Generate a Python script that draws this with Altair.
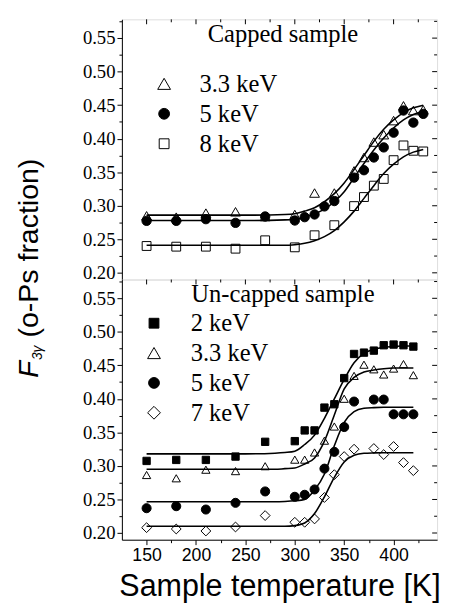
import altair as alt
import pandas as pd

# ---------------- data ----------------
# Capped sample
cap_33_T = [150, 180, 210, 240, 270, 300, 320, 340, 360, 370, 380, 390, 400, 410, 420, 430]
cap_33_F = [0.285, 0.283, 0.289, 0.291, 0.284, 0.287, 0.319, 0.319, 0.352, 0.372, 0.395, 0.406, 0.427, 0.449, 0.442, 0.443]
cap_5_T = [150, 180, 210, 240, 270, 300, 310, 320, 330, 340, 360, 370, 380, 390, 400, 410, 420, 430]
cap_5_F = [0.2775, 0.2775, 0.280, 0.2745, 0.284, 0.278, 0.283, 0.287, 0.299, 0.307, 0.342, 0.353, 0.372, 0.387, 0.409, 0.442, 0.424, 0.437]
cap_8_T = [150, 180, 210, 240, 270, 300, 320, 340, 360, 370, 380, 390, 400, 410, 420, 430]
cap_8_F = [0.240, 0.239, 0.239, 0.236, 0.2485, 0.238, 0.256, 0.271, 0.2995, 0.313, 0.330, 0.340, 0.368, 0.390, 0.382, 0.381]

cap_fit_T = [150, 200, 250, 290, 300, 310, 320, 330, 340, 350, 360, 370, 380, 390, 400, 410, 420, 430]
cap_fit_33 = [0.286, 0.286, 0.286, 0.287, 0.288, 0.292, 0.297, 0.306, 0.318, 0.334, 0.354, 0.375, 0.396, 0.414, 0.428, 0.439, 0.446, 0.450]
cap_fit_5 = [0.278, 0.278, 0.278, 0.279, 0.280, 0.283, 0.288, 0.295, 0.306, 0.321, 0.342, 0.363, 0.383, 0.401, 0.416, 0.428, 0.436, 0.441]
cap_fit_8 = [0.241, 0.241, 0.241, 0.241, 0.242, 0.244, 0.248, 0.254, 0.263, 0.276, 0.292, 0.311, 0.330, 0.348, 0.362, 0.373, 0.380, 0.384]

# Un-capped sample
unc_T = [150, 180, 210, 240, 270, 300, 310, 320, 330, 340, 350, 360, 370, 380, 390, 400, 410, 420]
unc_2_F = [0.3075, 0.309, 0.309, 0.314, 0.336, 0.337, 0.353, 0.353, 0.387, 0.392, 0.431, 0.467, 0.469, 0.472, 0.480, 0.481, 0.480, 0.478]
unc_33_F = [0.2865, 0.2816, 0.2944, 0.2923, 0.2996, 0.3094, 0.3094, 0.3201, 0.3377, 0.3588, 0.4002, 0.4343, 0.451, 0.4441, 0.4364, 0.4452, 0.4519, 0.4354]
unc_57_T = [150, 180, 210, 240, 270, 300, 310, 320, 330, 340, 350, 360, 380, 390, 400, 410, 420]
unc_5_F = [0.237, 0.240, 0.235, 0.245, 0.262, 0.254, 0.257, 0.265, 0.296, 0.321, 0.358, 0.396, 0.399, 0.399, 0.377, 0.377, 0.377]
unc_7_F = [0.208, 0.206, 0.203, 0.209, 0.226, 0.216, 0.216, 0.221, 0.253, 0.287, 0.314, 0.325, 0.326, 0.317, 0.329, 0.305, 0.293]

unc_fit_T = [150, 200, 250, 280, 290, 300, 310, 320, 330, 340, 350, 360, 370, 380, 390, 400, 410, 420]
unc_fit_2 = [0.318, 0.318, 0.318, 0.319, 0.320, 0.322, 0.332, 0.346, 0.371, 0.400, 0.429, 0.454, 0.468, 0.474, 0.477, 0.478, 0.479, 0.479]
unc_fit_33 = [0.295, 0.295, 0.295, 0.295, 0.296, 0.297, 0.303, 0.312, 0.337, 0.376, 0.415, 0.432, 0.440, 0.443, 0.445, 0.446, 0.446, 0.446]
unc_fit_5 = [0.2465, 0.2465, 0.2465, 0.2465, 0.247, 0.248, 0.250, 0.264, 0.288, 0.330, 0.365, 0.381, 0.386, 0.387, 0.3875, 0.3875, 0.3875, 0.3875]
unc_fit_7 = [0.210, 0.210, 0.210, 0.210, 0.210, 0.211, 0.215, 0.229, 0.254, 0.283, 0.306, 0.316, 0.319, 0.3195, 0.3197, 0.3197, 0.3197, 0.3197]

cap_series = ["3.3 keV", "5 keV", "8 keV"]
unc_series = ["2 keV", "3.3 keV", "5 keV", "7 keV"]

X_MAJOR = [150, 200, 250, 300, 350, 400]
X_MINOR = [175, 225, 275, 325, 375, 425]
Y_MAJOR = [0.20, 0.25, 0.30, 0.35, 0.40, 0.45, 0.50, 0.55]
Y_MINOR = [0.225, 0.275, 0.325, 0.375, 0.425, 0.475, 0.525, 0.575]

X_DOMAIN = [125, 444]
Y_DOMAIN = [0.19, 0.578]
W, H = 321, 265


def frame(name, xs, ys):
    return pd.DataFrame({"T": xs, "F": ys, "s": name})


MAJOR_Y = "abs(datum.value*20 - round(datum.value*20)) < 0.001"
MAJOR_X = "datum.value % 50 == 0"
y_axis = alt.Axis(
    values=sorted(Y_MAJOR + Y_MINOR),
    labelExpr=MAJOR_Y + " ? format(datum.value, '.2f') : ''",
    tickSize={"condition": {"test": MAJOR_Y, "value": 5}, "value": 3},
    labelFontSize={"condition": {"test": MAJOR_Y, "value": 19}, "value": 0},
    labelFont="Liberation Serif", labelPadding=2, labelOverlap=False,
    labelColor="black", tickColor="black", domainColor="black", grid=False, title=None,
)

x_axis = alt.Axis(
    values=sorted(X_MAJOR + X_MINOR),
    labelExpr=MAJOR_X + " ? format(datum.value, 'd') : ''",
    tickSize={"condition": {"test": MAJOR_X, "value": 5}, "value": 3},
    labelFontSize={"condition": {"test": MAJOR_X, "value": 18}, "value": 0},
    labelFont="Liberation Sans", labelPadding=2, labelOverlap=False,
    labelColor="black", tickColor="black", domainColor="black", grid=False,
    title="Sample temperature [K]", titleFont="Liberation Sans", titleFontSize=31,
    titleFontWeight="normal", titleColor="black", titlePadding=8,
)


def one(t):
    return alt.Chart(pd.DataFrame({"t": [t]}))


def legend_layers(order, shapes, fills, lsizes, sym_x, lab_x, y0, dy):
    layers = []
    for i, name in enumerate(order):
        yy = y0 + i * dy
        layers.append(one(name).mark_point(filled=True, stroke="black", strokeWidth=1, opacity=1).encode(
            x=alt.value(sym_x), y=alt.value(yy), shape=alt.value(shapes[i]),
            fill=alt.value(fills[i]), size=alt.value(lsizes[i])))
        layers.append(one(name).mark_text(
            font="Liberation Serif", fontSize=25, align="left", baseline="middle", color="black"
        ).encode(text="t:N", x=alt.value(lab_x), y=alt.value(yy)))
    return layers


def panel(points, curves, order, shapes, fills, sizes, lsizes, title_text,
          sym_x, lab_x, y0, dy, show_x, extra=()):
    pdf = pd.concat(points, ignore_index=True)
    cdf = pd.concat(curves, ignore_index=True)
    xs = alt.Scale(domain=X_DOMAIN, nice=False, zero=False)
    ys = alt.Scale(domain=Y_DOMAIN, nice=False, zero=False)
    xa = x_axis if show_x else None
    x = alt.X("T:Q", scale=xs, axis=xa)
    y = alt.Y("F:Q", scale=ys, axis=y_axis)
    lines = alt.Chart(cdf).mark_line(color="black", strokeWidth=1.6, interpolate="monotone").encode(
        x=x, y=y, detail="s:N")
    pts = alt.Chart(pdf).mark_point(filled=True, stroke="black", strokeWidth=1, opacity=1).encode(
        x=x, y=y,
        shape=alt.Shape("s:N", scale=alt.Scale(domain=order, range=shapes), legend=None),
        fill=alt.Fill("s:N", scale=alt.Scale(domain=order, range=fills), legend=None),
        size=alt.Size("s:N", scale=alt.Scale(domain=order, range=sizes), legend=None),
    )
    # inward ticks on the top and right borders
    ticks = []
    for vals, ln in ((X_MAJOR, 5), (X_MINOR, 3)):
        ticks.append(alt.Chart(pd.DataFrame({"T": vals})).mark_rule(color="black", strokeWidth=1).encode(
            x=alt.X("T:Q", scale=xs, axis=xa), y=alt.value(0), y2=alt.value(ln)))
    for vals, ln in ((Y_MAJOR, 5), (Y_MINOR, 3)):
        ticks.append(alt.Chart(pd.DataFrame({"F": vals})).mark_rule(color="black", strokeWidth=1).encode(
            y=alt.Y("F:Q", scale=ys, axis=y_axis), x=alt.value(W - ln), x2=alt.value(W)))
    ttl = one(title_text).mark_text(
        font="Liberation Serif", fontSize=25, align="center", baseline="alphabetic", color="black"
    ).encode(text="t:N", x=alt.value(164), y=alt.value(23))
    leg = legend_layers(order, shapes, fills, lsizes, sym_x, lab_x, y0, dy)
    return alt.layer(lines, pts, *ticks, ttl, *leg, *extra).properties(width=W, height=H)


# y title pieces, drawn beside the top panel
def ytext(t, size, style, xv, yv):
    return one(t).mark_text(
        font="Liberation Sans", fontSize=size, fontStyle=style, angle=270,
        align="left", baseline="alphabetic", color="black"
    ).encode(text="t:N", x=alt.value(xv), y=alt.value(yv))


ytitle = [
    ytext("F", 28, "italic", -85.5, 365),
    ytext("3γ", 14, "italic", -81, 347),
    ytext("(o-Ps fraction)", 29, "normal", -85.5, 324),
]

top = panel(
    [frame("3.3 keV", cap_33_T, cap_33_F), frame("5 keV", cap_5_T, cap_5_F), frame("8 keV", cap_8_T, cap_8_F)],
    [frame("3.3 keV", cap_fit_T, cap_fit_33), frame("5 keV", cap_fit_T, cap_fit_5), frame("8 keV", cap_fit_T, cap_fit_8)],
    cap_series, ["triangle-up", "circle", "square"], ["transparent", "black", "transparent"],
    [100, 81, 56], [170, 121, 100],
    "Capped sample", 43, 79, 65.7, 30.5, False, ytitle,
)

bottom = panel(
    [frame("2 keV", unc_T, unc_2_F), frame("3.3 keV", unc_T, unc_33_F),
     frame("5 keV", unc_57_T, unc_5_F), frame("7 keV", unc_57_T, unc_7_F)],
    [frame("2 keV", unc_fit_T, unc_fit_2), frame("3.3 keV", unc_fit_T, unc_fit_33),
     frame("5 keV", unc_fit_T, unc_fit_5), frame("7 keV", unc_fit_T, unc_fit_7)],
    unc_series, ["square", "triangle-up", "circle", "diamond"], ["black", "transparent", "black", "transparent"],
    [56, 100, 81, 100], [100, 170, 121, 170],
    "Un-capped sample", 32.7, 70, 44.5, 30.4, True,
)

chart = alt.vconcat(top, bottom, spacing=0, bounds="flush").resolve_scale(
    shape="independent", fill="independent", size="independent"
).properties(
    padding={"left": 7, "top": 5, "right": 0, "bottom": 0}
).configure_view(
    stroke="black", strokeWidth=1
).configure(background="white")

chart.save("out.html", embed_options={"renderer": "svg", "actions": False})
